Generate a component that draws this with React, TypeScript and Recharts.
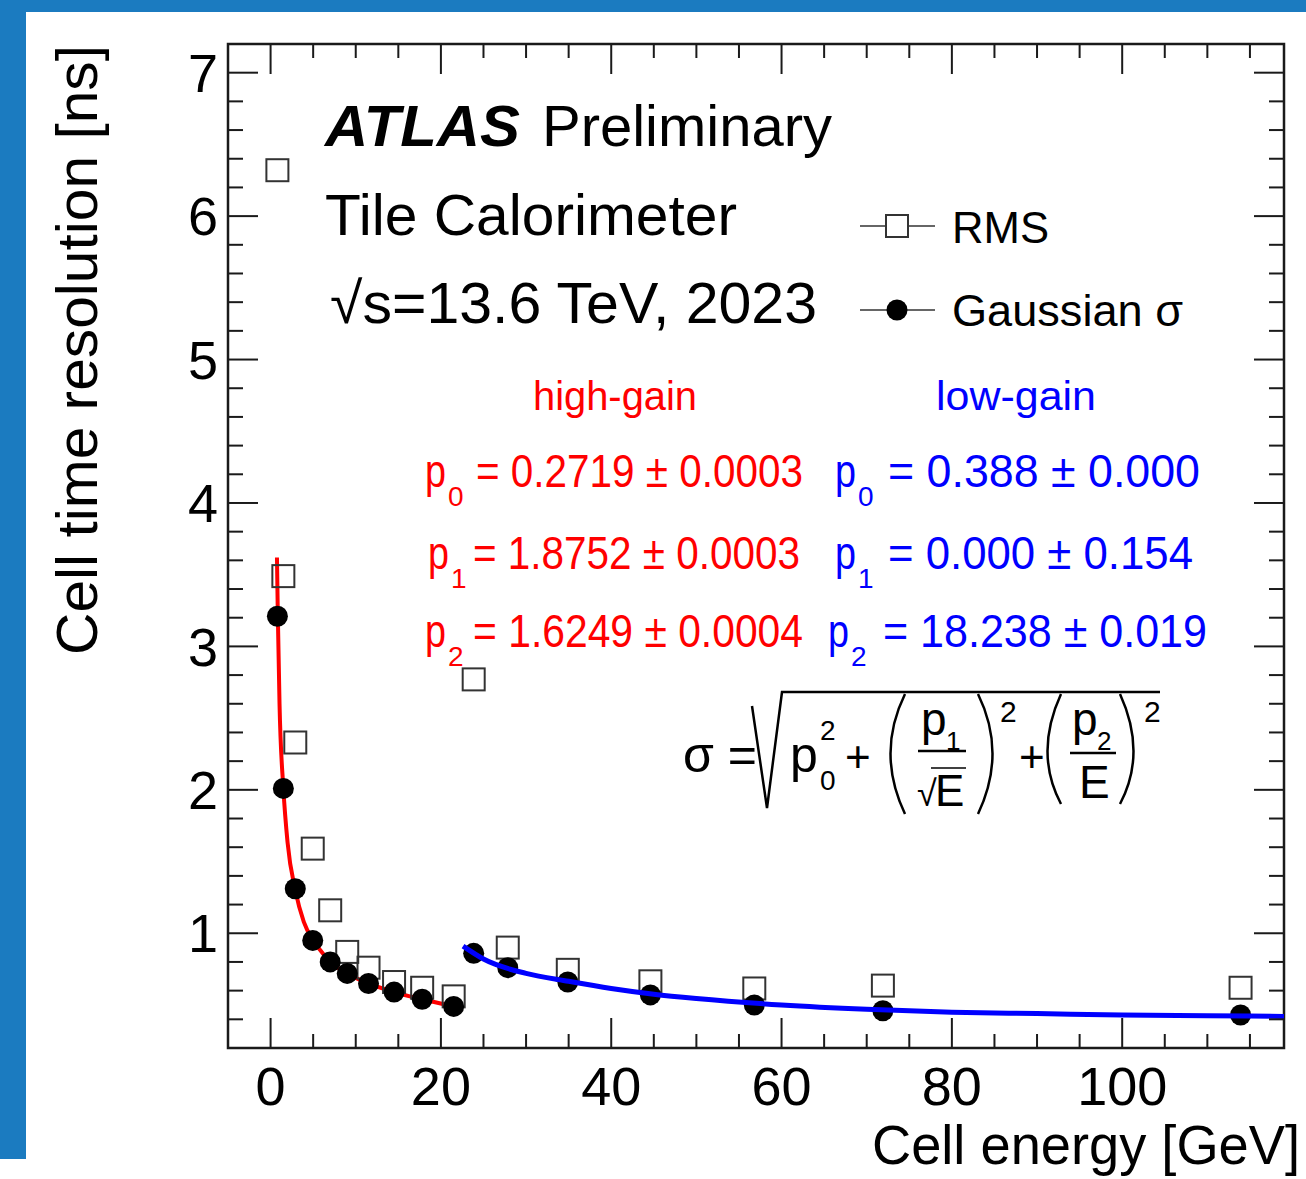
import { ComposedChart, Scatter, Line, XAxis, YAxis, ReferenceArea } from 'recharts';

// cell energy [GeV] of each bin
const energyHigh = [0.8, 1.5, 2.9, 4.95, 7.0, 9.0, 11.5, 14.5, 17.8, 21.5];
const energyLow = [23.85, 27.85, 34.9, 44.6, 56.8, 71.9, 113.9];

// Gaussian sigma and RMS [ns]
const sigmaHigh = [3.21, 2.01, 1.31, 0.95, 0.8, 0.72, 0.65, 0.59, 0.54, 0.49];
const rmsHigh = [6.32, 3.49, 2.33, 1.59, 1.16, 0.87, 0.76, 0.66, 0.62, 0.56];
const sigmaLow = [0.86, 0.76, 0.66, 0.57, 0.5, 0.46, 0.43];
const rmsLow = [2.77, 0.9, 0.745, 0.665, 0.615, 0.635, 0.62];

// fitted curves
const fitHighE = [0.75, 0.85, 1.05, 1.5, 2.0, 2.9, 3.9, 5.0, 6.0, 7.0, 9.0, 11.5, 14.5, 17.8, 21.5];
const fitHighY = [3.62, 3.22, 2.6, 2.01, 1.63, 1.3, 1.08, 0.95, 0.87, 0.8, 0.72, 0.65, 0.59, 0.54, 0.49];
const fitLowE = [22.6, 25, 30, 35, 40, 45, 50, 60, 70, 80, 90, 100, 110, 119];
const fitLowY = [0.91, 0.82, 0.72, 0.665, 0.615, 0.575, 0.545, 0.5, 0.47, 0.45, 0.44, 0.43, 0.425, 0.42];

// axes
const xMajor = [0, 20, 40, 60, 80, 100];
const xTicks = [0, 5, 10, 15, 20, 25, 30, 35, 40, 45, 50, 55, 60, 65, 70, 75, 80, 85, 90, 95, 100, 105, 110, 115];
const yMajor = [1, 2, 3, 4, 5, 6, 7];
const yTicks = [
  0.2, 0.4, 0.6, 0.8, 1, 1.2, 1.4, 1.6, 1.8, 2, 2.2, 2.4, 2.6, 2.8, 3, 3.2, 3.4, 3.6,
  3.8, 4, 4.2, 4.4, 4.6, 4.8, 5, 5.2, 5.4, 5.6, 5.8, 6, 6.2, 6.4, 6.6, 6.8, 7, 7.2,
];
const xDomain: [number, number] = [-5, 119];
const yDomain: [number, number] = [0.2, 7.2];

const toPts = (xs: number[], ys: number[]) => xs.map((x, i) => ({ x, y: ys[i] }));

const FONT = '"Liberation Sans", Arial, Helvetica, sans-serif';
const INK = '#1a1a1a';
const RED = '#ff0000';
const BLUE = '#0000ff';
const W = 1306;
const H = 1179;
const MARGIN = { top: 44, right: 22, bottom: 51, left: 100 };
const Y_AXIS_W = 128;
const X_AXIS_H = 80;
// plot box edges, following from the margins above
const PLOT = {
  left: MARGIN.left + Y_AXIS_W,
  right: W - MARGIN.right,
  top: MARGIN.top,
  bottom: H - MARGIN.bottom - X_AXIS_H,
};

const SquareMark = (props: any) => (
  <rect x={props.cx - 11} y={props.cy - 11} width={22} height={22} fill="none" stroke="#333" strokeWidth={2} />
);
const DotMark = (props: any) => <circle cx={props.cx} cy={props.cy} r={10.5} fill="#000" />;

// inward ticks on both sides of the frame, label only on the major ones
const XTick = (props: any) => {
  const { x, y, payload } = props;
  const v = payload.value;
  const major = xMajor.includes(v);
  const len = major ? 30 : 14;
  return (
    <g>
      <line x1={x} x2={x} y1={PLOT.bottom} y2={PLOT.bottom - len} stroke={INK} strokeWidth={2} />
      <line x1={x} x2={x} y1={PLOT.top} y2={PLOT.top + len} stroke={INK} strokeWidth={2} />
      {major && (
        <text x={x} y={y} dy="0.71em" textAnchor="middle" fontFamily={FONT} fontSize={54} fill="#000">
          {v}
        </text>
      )}
    </g>
  );
};

const YTick = (props: any) => {
  const { x, y, payload } = props;
  const v = payload.value;
  const major = yMajor.includes(v);
  const len = major ? 30 : 15;
  return (
    <g>
      <line x1={PLOT.left} x2={PLOT.left + len} y1={y} y2={y} stroke={INK} strokeWidth={2} />
      <line x1={PLOT.right} x2={PLOT.right - len} y1={y} y2={y} stroke={INK} strokeWidth={2} />
      {major && (
        <text x={x} y={y} dy="0.355em" textAnchor="end" fontFamily={FONT} fontSize={54} fill="#000">
          {v}
        </text>
      )}
    </g>
  );
};

const SQUEEZE = 0.88;

function Overlay() {
  const pRow = (color: string, px: number, sub: string, rest: string, restX: number, restLen: number, y: number) => (
    <g fill={color}>
      <text x={px} y={y} fontSize={46} textLength={21} lengthAdjust="spacingAndGlyphs">p</text>
      <text x={px + 23} y={y + 19} fontSize={28}>{sub}</text>
      <g transform={`translate(${restX} ${y}) scale(${SQUEEZE} 1)`}>
        <text x={0} y={0} fontSize={46} textLength={restLen / SQUEEZE} lengthAdjust="spacingAndGlyphs">{rest}</text>
      </g>
    </g>
  );
  return (
    <svg width={W} height={H} style={{ position: 'absolute', left: 0, top: 0, pointerEvents: 'none' }} fontFamily={FONT}>
      {/* header */}
      <text x={325} y={146} fontSize={58} fontWeight="bold" fontStyle="italic" fill="#000" textLength={195} lengthAdjust="spacingAndGlyphs">ATLAS</text>
      <text x={542} y={146} fontSize={58} fill="#000" textLength={290} lengthAdjust="spacingAndGlyphs">Preliminary</text>
      <text x={325} y={235} fontSize={58} fill="#000" textLength={412} lengthAdjust="spacingAndGlyphs">Tile Calorimeter</text>
      <text x={330} y={323} fontSize={58} fill="#000" textLength={487} lengthAdjust="spacingAndGlyphs">√s=13.6 TeV, 2023</text>

      {/* legend */}
      <line x1={860} x2={935} y1={226} y2={226} stroke="#333" strokeWidth={1.5} />
      <rect x={886} y={215} width={22} height={22} fill="#fff" stroke="#333" strokeWidth={2} />
      <text x={952} y={243} fontSize={44} fill="#000" textLength={97} lengthAdjust="spacingAndGlyphs">RMS</text>
      <line x1={860} x2={935} y1={310} y2={310} stroke="#333" strokeWidth={1.5} />
      <circle cx={897} cy={310} r={10.5} fill="#000" />
      <text x={952} y={326} fontSize={44} fill="#000" textLength={231} lengthAdjust="spacingAndGlyphs">Gaussian σ</text>

      {/* fit parameters */}
      <text x={533} y={410} fontSize={40} fill={RED} textLength={164} lengthAdjust="spacingAndGlyphs">high-gain</text>
      <text x={936} y={410} fontSize={40} fill={BLUE} textLength={160} lengthAdjust="spacingAndGlyphs">low-gain</text>
      {pRow(RED, 425, '0', '= 0.2719 ± 0.0003', 476, 327, 487)}
      {pRow(RED, 428, '1', '= 1.8752 ± 0.0003', 473, 327, 569)}
      {pRow(RED, 425, '2', '= 1.6249 ± 0.0004', 473, 330, 647)}
      {pRow(BLUE, 835, '0', '=  0.388 ± 0.000', 888, 312, 487)}
      {pRow(BLUE, 835, '1', '=  0.000 ± 0.154', 888, 305, 569)}
      {pRow(BLUE, 828, '2', '= 18.238 ± 0.019', 883, 324, 647)}

      {/* resolution formula */}
      <g fill="#000" stroke="none">
        <text x={683} y={772} fontSize={50}>σ =</text>
        <text x={790} y={772} fontSize={50}>p</text>
        <text x={820} y={740} fontSize={28}>2</text>
        <text x={820} y={790} fontSize={28}>0</text>
        <text x={845} y={772} fontSize={44}>+</text>
        <text x={921} y={735} fontSize={46}>p</text>
        <text x={946} y={750} fontSize={26}>1</text>
        <text x={917} y={806} fontSize={36}>√</text>
        <text x={935} y={806} fontSize={44}>E</text>
        <text x={1000} y={722} fontSize={30}>2</text>
        <text x={1019} y={772} fontSize={44}>+</text>
        <text x={1072} y={735} fontSize={46}>p</text>
        <text x={1097} y={750} fontSize={26}>2</text>
        <text x={1079} y={798} fontSize={46}>E</text>
        <text x={1144} y={722} fontSize={30}>2</text>
      </g>
      <g fill="none" stroke="#000" strokeWidth={2.5}>
        <path d="M752 706 L767 808 L782 692 L1160 692" />
        <line x1={918} x2={966} y1={751} y2={751} />
        <line x1={931} x2={966} y1={768} y2={768} strokeWidth={1.5} />
        <line x1={1070} x2={1116} y1={753} y2={753} />
        <path d="M905 694 Q876 753 905 814" />
        <path d="M978 694 Q1007 753 978 814" />
        <path d="M1061 694 Q1034 753 1061 804" />
        <path d="M1120 694 Q1147 753 1120 804" />
      </g>

      {/* axis titles */}
      <text x={97} y={350} fontSize={58} fill="#000" textAnchor="middle" transform="rotate(-90 97 350)" textLength={610} lengthAdjust="spacingAndGlyphs">Cell time resolution [ns]</text>
      <text x={1300} y={1164} fontSize={55} fill="#000" textAnchor="end" textLength={428} lengthAdjust="spacingAndGlyphs">Cell energy [GeV]</text>
    </svg>
  );
}

export default function App() {
  return (
    <div style={{ position: 'absolute', left: 0, top: 0, width: W, height: H, background: '#fff', overflow: 'hidden' }}>
      <div style={{ position: 'absolute', left: 0, top: 0, width: W, height: 12, background: '#1b7bc0' }} />
      <div style={{ position: 'absolute', left: 0, top: 0, width: 26, height: 1159, background: '#1b7bc0' }} />
      <div style={{ position: 'absolute', left: 0, top: 0 }}>
        <ComposedChart width={W} height={H} margin={MARGIN}>
          <XAxis xAxisId="e" orientation="bottom" type="number" dataKey="x" domain={xDomain} allowDataOverflow ticks={xTicks} interval={0} height={X_AXIS_H} tickSize={0} tickMargin={19} tickLine={false} axisLine={false} tick={XTick} />
          <YAxis yAxisId="t" orientation="left" type="number" dataKey="y" domain={yDomain} allowDataOverflow ticks={yTicks} interval={0} width={Y_AXIS_W} tickSize={0} tickMargin={10} tickLine={false} axisLine={false} tick={YTick} />

          {/* frame */}
          <ReferenceArea xAxisId="e" yAxisId="t" x1={xDomain[0]} x2={xDomain[1]} y1={yDomain[0]} y2={yDomain[1]} fill="none" fillOpacity={0} stroke={INK} strokeWidth={2.5} ifOverflow="visible" />

          <Line xAxisId="e" yAxisId="t" data={toPts(fitHighE, fitHighY)} dataKey="y" type="monotoneX" stroke={RED} strokeWidth={4} dot={false} activeDot={false} isAnimationActive={false} />
          <Scatter xAxisId="e" yAxisId="t" data={toPts(energyHigh, rmsHigh)} shape={SquareMark} isAnimationActive={false} />
          <Scatter xAxisId="e" yAxisId="t" data={toPts(energyLow, rmsLow)} shape={SquareMark} isAnimationActive={false} />
          <Scatter xAxisId="e" yAxisId="t" data={toPts(energyHigh, sigmaHigh)} shape={DotMark} isAnimationActive={false} />
          <Scatter xAxisId="e" yAxisId="t" data={toPts(energyLow, sigmaLow)} shape={DotMark} isAnimationActive={false} />
          <Line xAxisId="e" yAxisId="t" data={toPts(fitLowE, fitLowY)} dataKey="y" type="monotoneX" stroke={BLUE} strokeWidth={5} dot={false} activeDot={false} isAnimationActive={false} zIndex={700} />
        </ComposedChart>
      </div>
      <Overlay />
    </div>
  );
}
